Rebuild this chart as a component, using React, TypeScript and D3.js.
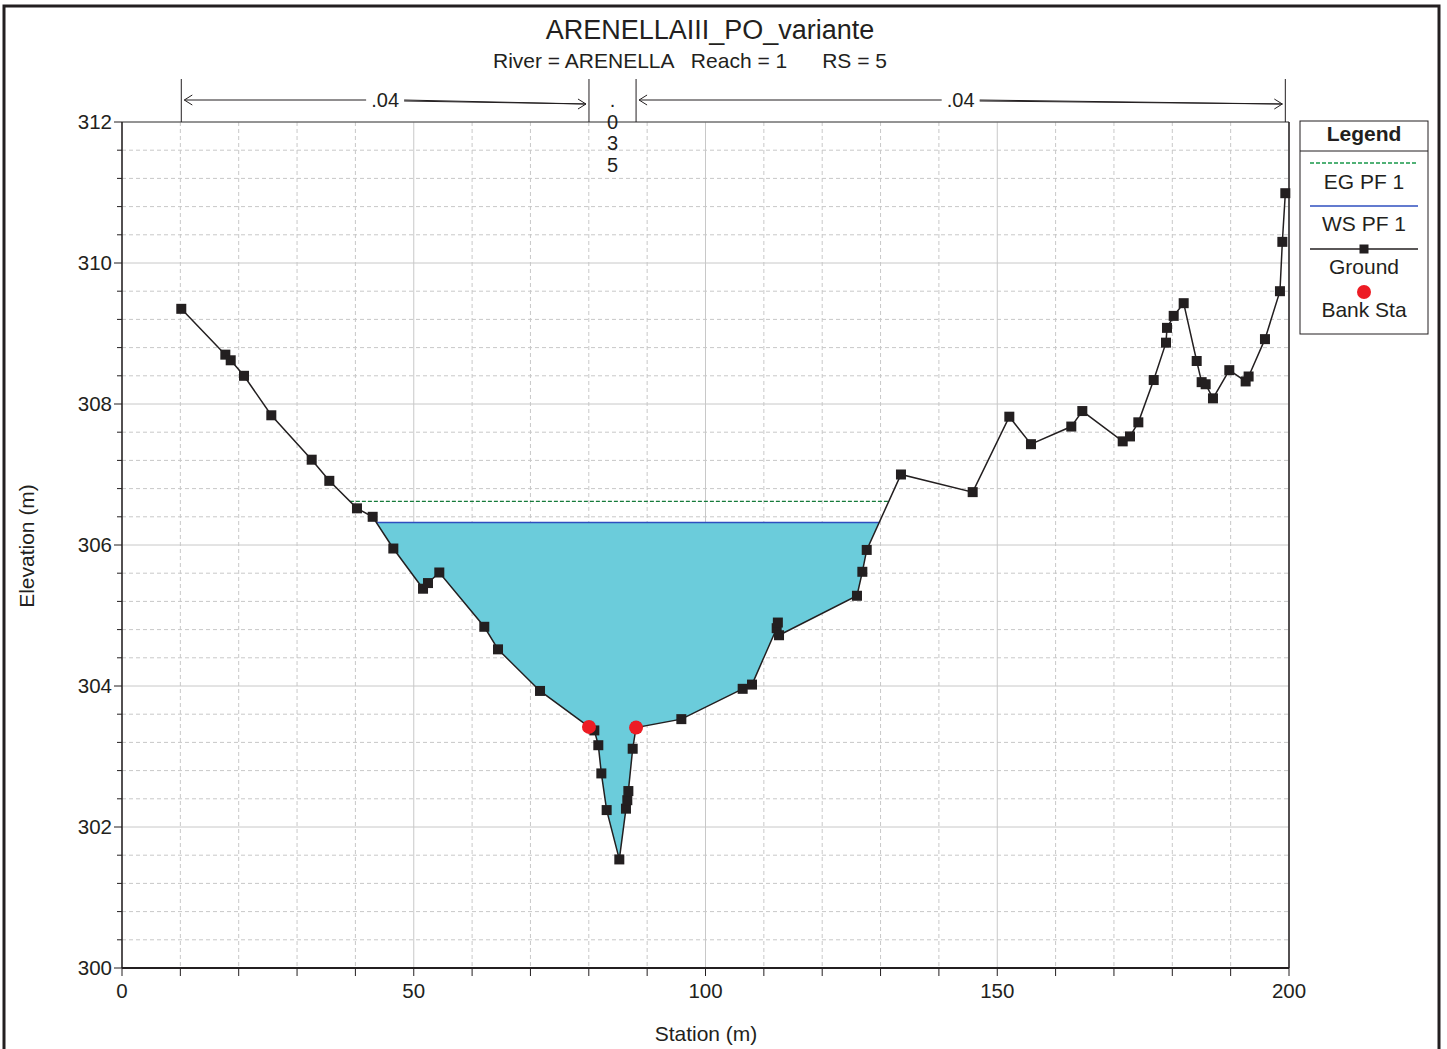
import React from "react";
import * as d3 from "d3";

const title = "ARENELLAIII_PO_variante";
const subtitle = "River = ARENELLA   Reach = 1      RS = 5";

const groundStation = [10.16, 17.71, 18.63, 20.91, 25.59, 32.51, 35.53, 40.27, 42.96, 46.5, 51.59, 52.44, 54.38, 62.09, 64.44, 71.64, 80.03, 80.95, 81.63, 82.15, 83.06, 85.23, 86.37, 86.6, 86.78, 87.52, 88.1, 95.86, 106.37, 107.97, 112.2, 112.4, 112.6, 125.96, 126.88, 127.63, 133.5, 145.79, 152.07, 155.78, 162.69, 164.58, 171.5, 172.75, 174.18, 176.81, 178.92, 179.09, 180.24, 181.95, 184.18, 185.03, 185.72, 186.97, 189.77, 192.57, 193.08, 195.88, 198.45, 198.86, 199.37];
const groundElev = [309.35, 308.7, 308.62, 308.4, 307.84, 307.21, 306.91, 306.52, 306.4, 305.95, 305.38, 305.46, 305.61, 304.84, 304.52, 303.93, 303.42, 303.37, 303.16, 302.76, 302.24, 301.54, 302.26, 302.38, 302.51, 303.11, 303.41, 303.53, 303.96, 304.02, 304.82, 304.9, 304.72, 305.28, 305.62, 305.93, 307.0, 306.75, 307.82, 307.43, 307.68, 307.9, 307.47, 307.54, 307.74, 308.34, 308.87, 309.08, 309.25, 309.43, 308.61, 308.31, 308.28, 308.08, 308.48, 308.32, 308.39, 308.92, 309.6, 310.3, 310.99];
const bankStations = [80.03, 88.1];
const bankElev = [303.42, 303.41];
const wsElev = 306.32;
const egElev = 306.62;
const nBreaks = [10.16, 80.03, 88.1, 199.37];
const nLabels = [".04", ".035", ".04"];
const xTicks = [0, 50, 100, 150, 200];
const yTicks = [300, 302, 304, 306, 308, 310, 312];
const legendItems = ["EG PF 1", "WS PF 1", "Ground", "Bank Sta"];

const FONT = "'Liberation Sans', Arial, sans-serif";
const W = 1447, H = 1049;
const L = 122, R = 1289, T = 122, B = 968;
const INK = "#231f20";

function crossings(level: number) {
  const pts: number[] = [];
  for (let i = 0; i < groundStation.length - 1; i++) {
    const e0 = groundElev[i] - level, e1 = groundElev[i + 1] - level;
    if ((e0 >= 0 && e1 < 0) || (e0 < 0 && e1 >= 0)) {
      const t = e0 / (e0 - e1);
      pts.push(groundStation[i] + t * (groundStation[i + 1] - groundStation[i]));
    }
  }
  return pts;
}

export default function App() {
  const x = d3.scaleLinear().domain([0, 200]).range([L, R]);
  const y = d3.scaleLinear().domain([300, 312]).range([B, T]);

  const ws = crossings(wsElev);
  const wsL = ws[0], wsR = ws[ws.length - 1];
  const eg = crossings(egElev);
  const egL = eg[0], egR = eg[eg.length - 1];

  const waterPts: [number, number][] = [[wsL, wsElev]];
  groundStation.forEach((s, i) => {
    if (s > wsL && s < wsR) waterPts.push([s, groundElev[i]]);
  });
  waterPts.push([wsR, wsElev]);
  const poly = waterPts.map(([s, e]) => `${x(s)},${y(e)}`).join(" ");

  const line = d3.line<number>().x((d, i) => x(groundStation[i])).y((d) => y(d));

  const xMinor = d3.range(0, 201, 10);
  const yMinor = d3.range(0, 31).map((i) => 300 + i * 0.4);

  const lx = 1300, ly = 121, lw = 128, lh = 213;

  return (
    <svg width={W} height={H} style={{ position: "absolute", left: 0, top: 0, background: "#fff" }} fontFamily={FONT}>
      <rect x={4} y={6} width={1435} height={1100} fill="#fff" stroke={INK} strokeWidth={3} />
      {xMinor.map((v) => (
        <line key={"gx" + v} x1={x(v)} x2={x(v)} y1={T} y2={B} stroke="#c8c8c8" strokeWidth={1} strokeDasharray={v % 50 === 0 ? undefined : "4,3"} />
      ))}
      {yMinor.map((v, i) => (
        <line key={"gy" + i} x1={L} x2={R} y1={y(v)} y2={y(v)} stroke="#c8c8c8" strokeWidth={1} strokeDasharray={i % 5 === 0 ? undefined : "4,3"} />
      ))}
      <line x1={L} x2={R} y1={T} y2={T} stroke="#444" strokeWidth={1} />
      <line x1={R} x2={R} y1={T} y2={B} stroke={INK} strokeWidth={1.5} />
      <line x1={L} x2={L} y1={T} y2={B} stroke={INK} strokeWidth={1.5} />
      <line x1={L} x2={R} y1={B} y2={B} stroke={INK} strokeWidth={2} />
      {yMinor.map((v, i) => (
        <line key={"ty" + i} x1={i % 5 === 0 ? 114 : 117} x2={L} y1={y(v)} y2={y(v)} stroke={INK} strokeWidth={1} />
      ))}
      {yTicks.map((v) => (
        <text key={"yl" + v} x={112} y={y(v)} dy="0.35em" textAnchor="end" fontSize={20.5} fill={INK}>{v}</text>
      ))}
      {xMinor.map((v) => (
        <line key={"tx" + v} x1={x(v)} x2={x(v)} y1={B} y2={B + 8} stroke={INK} strokeWidth={1} />
      ))}
      {xTicks.map((v) => (
        <text key={"xl" + v} x={x(v)} y={B + 23} dy="0.35em" textAnchor="middle" fontSize={20.5} fill={INK}>{v}</text>
      ))}
      <text x={706} y={1034} dy="0.35em" textAnchor="middle" fontSize={21} fill={INK}>Station (m)</text>
      <text transform={`translate(27,${546}) rotate(-90)`} dy="0.35em" textAnchor="middle" fontSize={21} fill={INK}>Elevation (m)</text>
      <text x={710} y={30} dy="0.35em" textAnchor="middle" fontSize={27} fill={INK}>{title}</text>
      <text x={690} y={61} dy="0.35em" textAnchor="middle" fontSize={21} fill={INK} style={{ whiteSpace: "pre" }}>{subtitle}</text>
      {nBreaks.map((v, i) => (
        <line key={"nb" + i} x1={x(v)} x2={x(v)} y1={79} y2={T} stroke={INK} strokeWidth={1} />
      ))}
      {nLabels.map((lab, i) => {
        const a = x(nBreaks[i]), b = x(nBreaks[i + 1]);
        const mid = (a + b) / 2;
        if (b - a < 80) {
          const chars = lab.split("");
          return (
            <g key={"nl" + i}>
              {chars.map((c, j) => (
                <text key={j} x={mid} y={100 + j * 21.5} dy="0.35em" textAnchor="middle" fontSize={20} fill={INK}>{c}</text>
              ))}
            </g>
          );
        }
        const tw = 38;
        return (
          <g key={"nl" + i} fill="none" stroke={INK} strokeWidth={1}>
            <line x1={a + 3} x2={mid - tw / 2} y1={100} y2={100} />
            <line x1={mid + tw / 2} x2={b - 3} y1={100} y2={104} />
            <line x1={mid + tw / 2} x2={b - 3} y1={101} y2={104} />
            <polyline points={`${a + 11},95 ${a + 3},100 ${a + 11},105`} />
            <polyline points={`${b - 11},99 ${b - 3},104 ${b - 11},109`} />
            <text x={mid} y={100} dy="0.35em" textAnchor="middle" fontSize={20} fill={INK} stroke="none">{lab}</text>
          </g>
        );
      })}
      <polygon points={poly} fill="#6bccdb" stroke="none" />
      <line x1={x(wsL)} x2={x(wsR)} y1={y(wsElev)} y2={y(wsElev)} stroke="#2f4fbf" strokeWidth={1.5} />
      <line x1={x(egL)} x2={x(egR)} y1={y(egElev)} y2={y(egElev)} stroke="#157a3a" strokeWidth={1.3} strokeDasharray="4,2" />
      <path d={line(groundElev) || ""} fill="none" stroke={INK} strokeWidth={1.5} />
      {groundStation.map((s, i) => (
        <rect key={"gp" + i} x={x(s) - 5} y={y(groundElev[i]) - 5} width={10} height={10} fill={INK} />
      ))}
      {bankStations.map((s, i) => (
        <circle key={"bk" + i} cx={x(s)} cy={y(bankElev[i])} r={7} fill="#ed1c24" />
      ))}
      <rect x={lx} y={ly} width={lw} height={lh} fill="#fff" stroke={INK} strokeWidth={1} />
      <line x1={lx} x2={lx + lw} y1={151} y2={151} stroke={INK} strokeWidth={1} />
      <text x={lx + lw / 2} y={134} dy="0.35em" textAnchor="middle" fontSize={21} fontWeight="bold" fill={INK}>Legend</text>
      <line x1={1310} x2={1418} y1={163} y2={163} stroke="#17984a" strokeWidth={1.3} strokeDasharray="4,2" />
      <line x1={1310} x2={1418} y1={206} y2={206} stroke="#2f4fbf" strokeWidth={1.3} />
      <line x1={1310} x2={1418} y1={249} y2={249} stroke={INK} strokeWidth={1.3} />
      <rect x={1359.5} y={244.5} width={9} height={9} fill={INK} />
      <circle cx={1364} cy={292} r={7} fill="#ed1c24" />
      {legendItems.map((t, i) => (
        <text key={"lg" + i} x={1364} y={[182, 224, 267, 310][i]} dy="0.35em" textAnchor="middle" fontSize={21} fill={INK}>{t}</text>
      ))}
    </svg>
  );
}
